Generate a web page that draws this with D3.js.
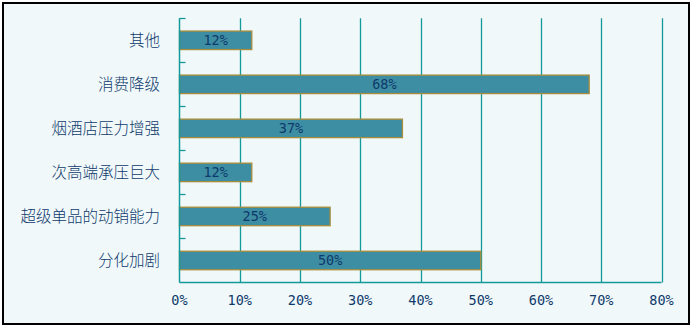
<!DOCTYPE html>
<html>
<head>
<meta charset="utf-8">
<script src="https://cdn.jsdelivr.net/npm/d3@7/dist/d3.min.js"></script>
<style>
  html, body { margin: 0; padding: 0; background: #ffffff; }
  svg { display: block; }
</style>
</head>
<body>
<svg id="chart" width="691" height="326"></svg>
<script>
// Categories, top to bottom, and their shares (%)
const categories = ["其他", "消费降级", "烟酒店压力增强", "次高端承压巨大", "超级单品的动销能力", "分化加剧"];
const values = [12, 68, 37, 12, 25, 50];
const xTicks = [0, 10, 20, 30, 40, 50, 60, 70, 80];

const W = 691, H = 326;
const plot = { left: 179.5, right: 661.5, top: 18.3, bottom: 282.5 };

const gridColor = "#14999a";
const textColor = "#0f3a6b";
const barFill = "#3d8da3";
const barStroke = "#a88d3a";
const numFont = "'DejaVu Sans Mono', monospace";

const svg = d3.select("#chart");

// Panel background and frame
svg.append("rect")
  .attr("x", 3).attr("y", 3)
  .attr("width", 686).attr("height", 321)
  .attr("fill", "#f0f8fa")
  .attr("stroke", "#000")
  .attr("stroke-width", 2);

const x = d3.scaleLinear().domain([0, 80]).range([plot.left, plot.right]);
const y = d3.scaleBand().domain(categories).range([plot.top, plot.bottom]).paddingInner(0.58).paddingOuter(0.29);
const yBand = d3.scaleBand().domain(categories).range([plot.top, plot.bottom]);

// Vertical gridlines
svg.append("g")
  .selectAll("line")
  .data(xTicks.filter(d => d > 0))
  .join("line")
  .attr("x1", d => Math.round(x(d)) + 0.5)
  .attr("x2", d => Math.round(x(d)) + 0.5)
  .attr("y1", plot.top)
  .attr("y2", plot.bottom)
  .attr("stroke", gridColor)
  .attr("stroke-width", 1.3);

// Bars
svg.append("g")
  .selectAll("rect")
  .data(categories.map((c, i) => ({ c, v: values[i] })))
  .join("rect")
  .attr("x", x(0))
  .attr("y", d => y(d.c))
  .attr("width", d => x(d.v) - x(0))
  .attr("height", y.bandwidth())
  .attr("fill", barFill)
  .attr("stroke", barStroke)
  .attr("stroke-width", 1.3);

// Value labels centred in each bar
svg.append("g")
  .selectAll("text")
  .data(categories.map((c, i) => ({ c, v: values[i] })))
  .join("text")
  .attr("x", d => (x(0) + x(d.v)) / 2)
  .attr("y", d => y(d.c) + y.bandwidth() / 2)
  .attr("dy", "0.36em")
  .attr("text-anchor", "middle")
  .attr("fill", textColor)
  .style("font-family", numFont)
  .style("font-size", "13.5px")
  .text(d => d.v + "%");

// Left axis with inward ticks at band boundaries
const yAxis = svg.append("g");
yAxis.append("line")
  .attr("x1", plot.left).attr("x2", plot.left)
  .attr("y1", plot.top).attr("y2", plot.bottom)
  .attr("stroke", gridColor).attr("stroke-width", 1.5);
yAxis.selectAll("line.tick")
  .data(categories)
  .join("line")
  .attr("class", "tick")
  .attr("x1", plot.left).attr("x2", plot.left + 6)
  .attr("y1", d => Math.round(yBand(d)) + 0.5)
  .attr("y2", d => Math.round(yBand(d)) + 0.5)
  .attr("stroke", gridColor).attr("stroke-width", 1.3);

// Category labels
yAxis.selectAll("text")
  .data(categories)
  .join("text")
  .attr("x", 160)
  .attr("y", d => yBand(d) + yBand.bandwidth() / 2)
  .attr("dy", "0.36em")
  .attr("text-anchor", "end")
  .attr("fill", textColor)
  .style("font-family", "'Noto Sans CJK SC', sans-serif")
  .style("font-size", "15.5px")
  .style("font-weight", 300)
  .text(d => d);

// Bottom axis line
svg.append("line")
  .attr("x1", plot.left).attr("x2", plot.right)
  .attr("y1", plot.bottom).attr("y2", plot.bottom)
  .attr("stroke", gridColor).attr("stroke-width", 1.5);

// Bottom tick labels
svg.append("g")
  .selectAll("text")
  .data(xTicks)
  .join("text")
  .attr("x", d => x(d))
  .attr("y", 300.5)
  .attr("dy", "0.36em")
  .attr("text-anchor", "middle")
  .attr("fill", textColor)
  .style("font-family", numFont)
  .style("font-size", "13.5px")
  .text(d => d + "%");
</script>
</body>
</html>
